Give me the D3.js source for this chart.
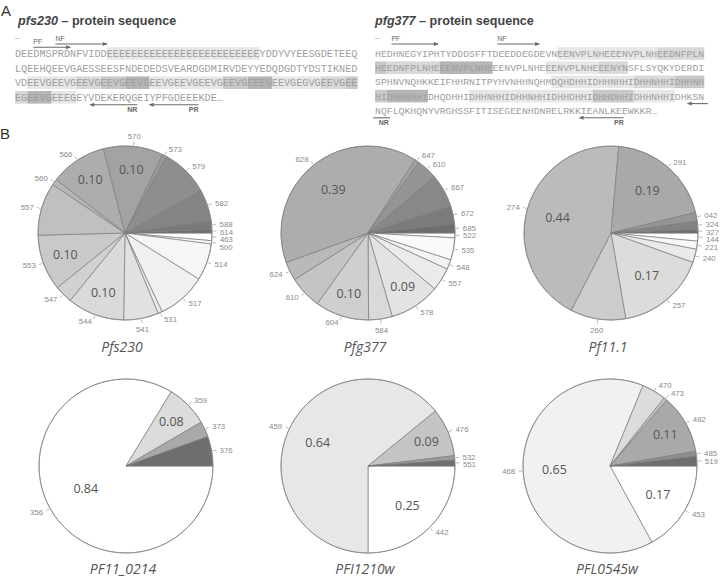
<!DOCTYPE html>
<html><head><meta charset="utf-8">
<script src="https://cdn.jsdelivr.net/npm/d3@7"></script>
<style>body{margin:0;background:#fff}svg{display:block}</style>
</head><body>
<svg id="c" width="720" height="578"></svg>
<script>
// ================= DATA =================
// Panel A: sequences (one string per printed line)
const pfs230Lines = [
  "DEEDMSPRDNFVIDDEEEEEEEEEEEEEEEEEEEEEEEEEYDDYVYEESGDETEEQ",
  "LQEEHQEEVGAESSEESFNDEDEDSVEARDGDMIRVDEYYEDQDGDTYDSTIKNED",
  "VDEEVGEEVGEEVGEEVGEEVGEEVGEEVGEEVGEEVGEEEGEEVGEGVGEEVGEE",
  "EGEEVGEEEGEYVDEKERQGEIYPFGDEEEKDE\u2026"
];
// repeat highlights: [line, firstChar, lastChar, shade level 1-4]
const pfs230Repeats = [
  [0,15,39,1],
  [2,2,9,1],[2,10,13,2],[2,14,17,3],[2,18,21,4],[2,22,25,1],[2,26,33,1],
  [2,34,37,3],[2,38,41,4],[2,42,45,1],[2,46,49,1],[2,50,53,2],[2,54,55,3],
  [3,0,1,2],[3,2,5,4],[3,6,9,1]
];
// primers: [label, line, fromChar, toChar, direction(+1 fwd / -1 rev / 0 plain), tier]
const pfs230Primers = [
  ["PF",0,3,9,1,0],["NF",0,6.6,15,1,1],
  ["NR",3,12.3,20,-1,0],["PR",3,22,30,-1,0]
];

const pfg377Lines = [
  "HEDHNEGYIPHTYDDDSFFTDEEDDEGDEVNEENVPLNHEEENVPLNHEEDNFPLN",
  "HEEDNFPLNHEEENVPLNHEEENVPLNHEEENVPLNHEEENYNSFLSYQKYDERDI",
  "SPHNVNQHKKEIFHHRNITPYHVNHHNQHMDQHDHHIDHHNHHIDHHNHHIDHHNH",
  "HIDHHNHHIDHQDHHIDHHNHHIDHHNHHIDHHDHHIDHHDHHIDHHNHHIDHKSN",
  "NQFLQKHQNYVRGHSSFITISEGEENHDNRELRKKIEANLKEEWKKR\u2026"
];
const pfg377Repeats = [
  [0,31,39,1],[0,40,47,1],[0,48,55,2],
  [1,0,1,3],[1,2,10,2],[1,11,19,4],[1,29,37,1],[1,38,42,2],
  [2,30,36,1],[2,37,43,1],[2,44,50,2],[2,51,55,3],
  [3,0,1,3],[3,2,8,4],[3,16,22,1],[3,23,29,1],[3,30,36,1],[3,37,43,3],[3,44,50,1]
];
const pfg377Primers = [
  ["PF",0,2.8,10.7,1,1],["NF",0,20.8,27.9,1,1],
  ["",3,53.2,56.6,-1,0],["NR",4,-0.3,2.6,0,0],["PR",4,34.8,42.3,-1,0]
];

// Panel B: allele frequencies, listed clockwise from 3 o'clock
const pfs230Alleles = ["463","500","514","517","531","541","544","547","553","557","560","566","570","573","579","582","588","614"];
const pfs230Freq    = [0.014,0.006,0.068,0.090,0.008,0.064,0.105,0.033,0.103,0.097,0.011,0.104,0.110,0.008,0.089,0.058,0.015,0.007];
const pfs230Shown   = ["","","","","","","0.10","","0.10","","","0.10","0.10","","","","",""];

const pfg377Alleles = ["522","535","548","557","578","584","604","610","624","628","647","610","667","672","685"];
const pfg377Freq    = [0.009,0.041,0.018,0.043,0.094,0.044,0.100,0.061,0.035,0.396,0.008,0.039,0.062,0.033,0.017];
const pfg377Shown   = ["","","","","0.09","","0.10","","","0.39","","","","",""];

const pf111Alleles = ["144","221","240","257","260","274","291","042","324","327"];
const pf111Freq    = [0.015,0.015,0.025,0.168,0.103,0.439,0.198,0.016,0.015,0.007];
const pf111Shown   = ["","","","0.17","","0.44","0.19","","",""];

const pf110214Alleles = ["356","359","373","376"];
const pf110214Freq    = [0.837,0.079,0.029,0.055];
const pf110214Shown   = ["0.84","0.08","",""];

const pfi1210Alleles = ["442","459","476","532","551"];
const pfi1210Freq    = [0.250,0.641,0.090,0.008,0.011];
const pfi1210Shown   = ["0.25","0.64","0.09","",""];

const pfl0545Alleles = ["453","468","470","473","482","485","519"];
const pfl0545Freq    = [0.170,0.642,0.045,0.006,0.110,0.009,0.018];
const pfl0545Shown   = ["0.17","0.65","","","0.11","",""];

const pieTitles = ["Pfs230","Pfg377","Pf11.1","PF11_0214","PFI1210w","PFL0545w"];

// ================= DRAW =================
const svg = d3.select("#c");
const SANS = "'Liberation Sans', Arial, sans-serif";
const OPEN = "'Open Sans', 'Noto Sans', sans-serif";
const MONO = "'Liberation Mono', 'Courier New', monospace";

svg.append("text").attr("x",1).attr("y",16).attr("font-family",SANS).attr("font-size",15).attr("fill","#333").text("A");
svg.append("text").attr("x",0).attr("y",139).attr("font-family",SANS).attr("font-size",15).attr("fill","#333").text("B");

const shade = d3.scaleOrdinal().domain([1,2,3,4]).range(["#e7e7e7","#d8d8d8","#c8c8c8","#b6b6b6"]);

function seqPanel(cfg){
  const g = svg.append("g");
  const x = d3.scaleLinear().domain([0,1]).range([cfg.x0, cfg.x0+cfg.cw]);
  const y = d3.scaleLinear().domain([0,1]).range([cfg.y0, cfg.y0+cfg.lh]);
  const t = g.append("text").attr("x",cfg.tx).attr("y",25).attr("font-family",SANS)
    .attr("font-size",12.6).attr("font-weight","bold").attr("fill","#444");
  t.append("tspan").attr("font-style","italic").text(cfg.gene);
  t.append("tspan").text(" \u2013 protein sequence");
  g.append("text").attr("x",cfg.x0).attr("y",40).attr("font-family",SANS).attr("font-size",8).attr("fill","#999").text("\u2013");
  g.selectAll("rect.rep").data(cfg.repeats).join("rect")
    .attr("x",d=>x(d[1])).attr("width",d=>x(d[2]+1)-x(d[1]))
    .attr("y",d=>y(d[0])-6.3).attr("height",12.6)
    .attr("fill",d=>shade(d[3]));
  g.selectAll("text.seq").data(cfg.lines).join("text")
    .attr("x",cfg.x0).attr("y",(d,i)=>y(i)+3.4)
    .attr("font-family",MONO).attr("font-size",cfg.cw/0.6)
    .attr("fill","#9e9e9e").text(d=>d);
  cfg.primers.forEach(p=>{
    const [name,line,a,b,dir,tier] = p;
    let yy;
    if (dir===1) yy = y(line) - (tier===1 ? 9.5 : 6.2);
    else yy = y(line) + 7.5;
    const x1 = x(a), x2 = Math.min(x(b), 719);
    g.append("line").attr("x1",x1).attr("x2",x2).attr("y1",yy).attr("y2",yy)
      .attr("stroke","#6a6a6a").attr("stroke-width",1.1);
    if (dir===1){
      g.append("path").attr("d",`M${x2+1},${yy}L${x2-4},${yy-2}L${x2-4},${yy+2}Z`).attr("fill","#6a6a6a");
      g.append("text").attr("x",x1).attr("y",yy-3).attr("font-family",SANS).attr("font-size",7)
        .attr("fill","#666").text(name);
    } else if (dir===-1){
      g.append("path").attr("d",`M${x1-1},${yy}L${x1+4},${yy-2}L${x1+4},${yy+2}Z`).attr("fill","#6a6a6a");
      if (name)
        g.append("text").attr("x",x(b)).attr("y",yy+7).attr("text-anchor","end").attr("font-family",SANS)
          .attr("font-size",7).attr("font-weight","bold").attr("fill","#666").text(name);
    } else {
      g.append("text").attr("x",(x1+x2)/2+2).attr("y",yy+7).attr("text-anchor","middle").attr("font-family",SANS)
        .attr("font-size",7).attr("font-weight","bold").attr("fill","#666").text(name);
    }
  });
}

seqPanel({gene:"pfs230",tx:18,x0:15,cw:6.12,y0:53.5,lh:14.6,lines:pfs230Lines,repeats:pfs230Repeats,primers:pfs230Primers});
seqPanel({gene:"pfg377",tx:375,x0:375,cw:5.88,y0:53.5,lh:14.2,lines:pfg377Lines,repeats:pfg377Repeats,primers:pfg377Primers});

// ---------- Pies ----------
const R = 87;
const pieLayout = [
  {alleles:pfs230Alleles, freq:pfs230Freq, shown:pfs230Shown, cx:125, cy:233, ty:352},
  {alleles:pfg377Alleles, freq:pfg377Freq, shown:pfg377Shown, cx:368, cy:233, ty:352},
  {alleles:pf111Alleles,  freq:pf111Freq,  shown:pf111Shown,  cx:611, cy:233, ty:352},
  {alleles:pf110214Alleles, freq:pf110214Freq, shown:pf110214Shown, cx:126, cy:466, ty:574},
  {alleles:pfi1210Alleles, freq:pfi1210Freq, shown:pfi1210Shown, cx:368, cy:466, ty:574},
  {alleles:pfl0545Alleles, freq:pfl0545Freq, shown:pfl0545Shown, cx:610, cy:466, ty:574}
];

const pie = d3.pie().sort(null).value(d=>d.v).startAngle(Math.PI/2).endAngle(Math.PI/2+2*Math.PI);
const arc = d3.arc().innerRadius(0).outerRadius(R);

pieLayout.forEach((P,k)=>{
  const data = P.alleles.map((a,i)=>({a, v:P.freq[i], s:P.shown[i], i}));
  const n = data.length;
  const col = d3.scalePow().exponent(1.3).domain([0,n-1]).range(["#ffffff","#6e6e6e"]);
  const g = svg.append("g").attr("transform",`translate(${P.cx},${P.cy})`);
  const arcs = pie(data);
  g.selectAll("path.s").data(arcs).join("path")
    .attr("d",arc).attr("fill",d=>col(d.data.i))
    .attr("stroke","#7d7d7d").attr("stroke-width",0.7).attr("stroke-linejoin","round");
  g.append("circle").attr("r",R).attr("fill","none").attr("stroke","#8a8a8a").attr("stroke-width",0.8);

  arcs.filter(d=>d.data.s).forEach(d=>{
    const m = (d.startAngle+d.endAngle)/2;
    const v = d.data.v;
    const rr = R*(v>0.8?0.53:(v>0.15?0.64:0.73));
    g.append("text").attr("x",rr*Math.sin(m)).attr("y",-rr*Math.cos(m)).attr("dy","0.35em")
      .attr("text-anchor","middle").attr("font-family",OPEN).attr("font-size",12.5)
      .attr("fill","#555").text(d.data.s);
  });

  const labs = arcs.map(d=>{
    const m = (d.startAngle+d.endAngle)/2;
    const sx = Math.sin(m), sy = -Math.cos(m);
    const anchor = sx>0.25?"start":(sx<-0.25?"end":"middle");
    return {d, m, sx, sy, anchor, tx:(R+7)*sx, ty:(R+7)*sy};
  });
  ["start","end"].forEach(side=>{
    const grp = labs.filter(l=>l.anchor===side).sort((a,b)=>a.ty-b.ty);
    for (let i=1;i<grp.length;i++){
      if (grp[i].ty < grp[i-1].ty+7.5) grp[i].ty = grp[i-1].ty+7.5;
    }
  });
  labs.forEach(l=>{
    g.append("line").attr("x1",(R+1)*l.sx).attr("y1",(R+1)*l.sy)
      .attr("x2",(R+4.5)*l.sx).attr("y2",(R+4.5)*l.sy)
      .attr("stroke","#9a9a9a").attr("stroke-width",0.7);
    const dy = l.anchor==="middle" ? (l.sy<0 ? 0 : 7) : 2.8;
    g.append("text").attr("x",l.tx + (l.anchor==="start"?1:(l.anchor==="end"?-1:0)))
      .attr("y",l.ty + dy).attr("text-anchor",l.anchor)
      .attr("font-family",SANS).attr("font-size",7.8).attr("fill","#8a8a8a").text(l.d.data.a);
  });

  svg.append("text").attr("x",P.cx-3).attr("y",P.ty).attr("text-anchor","middle")
    .attr("font-family",OPEN).attr("font-style","italic").attr("font-size",14)
    .attr("fill","#555").text(pieTitles[k]);
});
</script>
</body></html>
